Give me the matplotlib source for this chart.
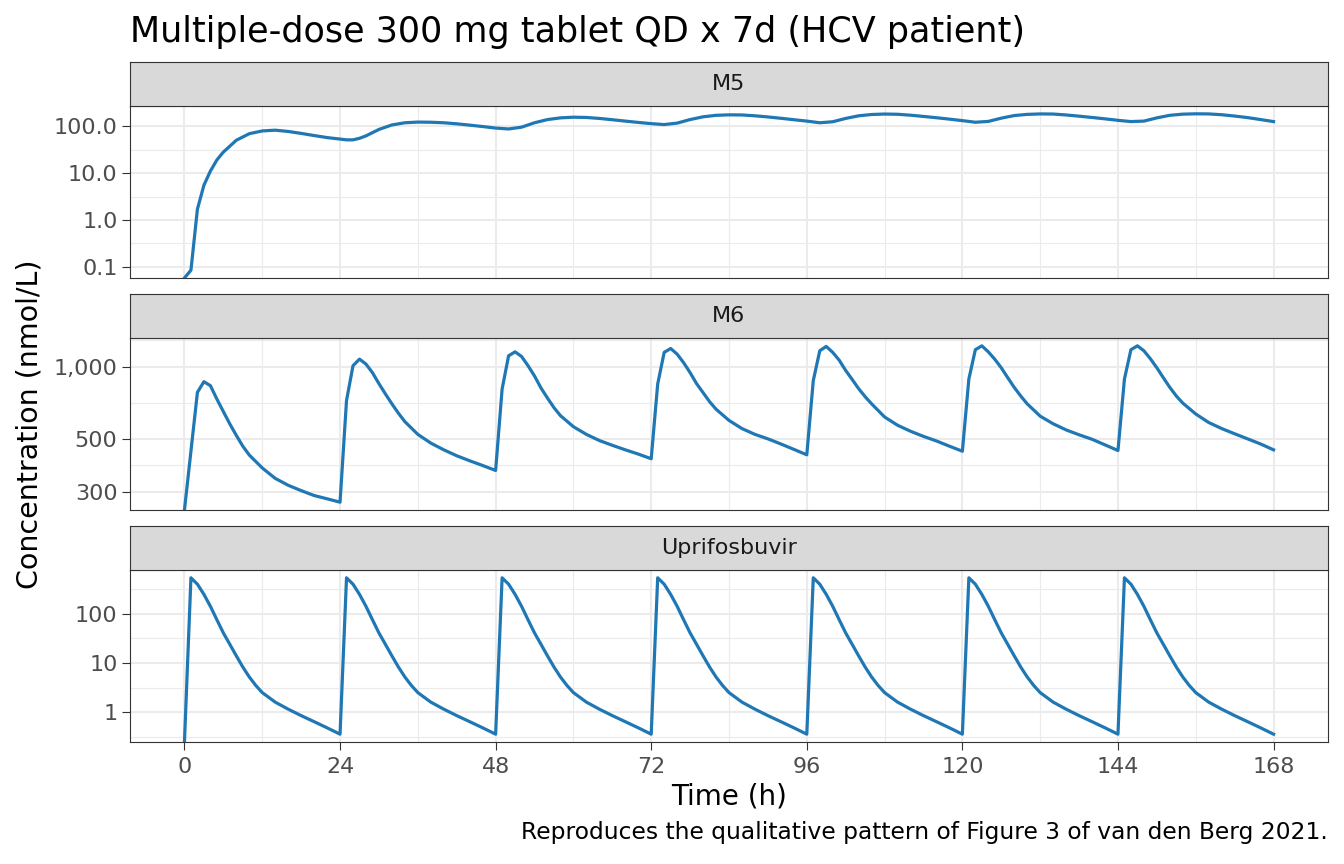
import numpy as np
import matplotlib
matplotlib.use("Agg")
import matplotlib.pyplot as plt
from matplotlib.ticker import FixedLocator, FixedFormatter, NullFormatter

plt.rcParams['font.family'] = ['DejaVu Sans']

title = "Multiple-dose 300 mg tablet QD x 7d (HCV patient)"
caption = "Reproduces the qualitative pattern of Figure 3 of van den Berg 2021."
x_label = "Time (h)"
y_label = "Concentration (nmol/L)"
panel_names = ["M5", "M6", "Uprifosbuvir"]

x_breaks = [0, 24, 48, 72, 96, 120, 144, 168]

# values (nmol/L); 0 at t=0 -> drawn at panel floor like ggplot's -Inf
m5_time = [0, 1, 2, 3, 4, 5, 6, 8, 10, 12, 14, 16, 18, 20, 22, 24,
           25, 26, 27, 28, 30, 32, 34, 36, 38, 40, 42, 44, 46, 48,
           50, 52, 54, 56, 58, 60, 62, 64, 66, 68, 70, 72,
           74, 76, 78, 80, 82, 84, 86, 88, 90, 92, 94, 96,
           98, 100, 102, 104, 106, 108, 110, 112, 114, 116, 118, 120,
           122, 124, 126, 128, 130, 132, 134, 136, 138, 140, 142, 144,
           146, 148, 150, 152, 154, 156, 158, 160, 162, 164, 166, 168]
m5_conc = [0, 0.085, 1.7, 5.5, 11, 19, 28, 50, 69, 79, 82, 77, 70, 63, 57, 53,
           51, 51, 55, 62, 85, 106, 118, 122, 121, 118, 112, 105, 98, 91,
           87, 95, 118, 138, 150, 155, 153, 146, 137, 128, 120, 113,
           108, 116, 138, 158, 170, 174, 173, 166, 157, 147, 137, 128,
           118, 124, 146, 166, 177, 181, 179, 171, 161, 151, 141, 131,
           121, 126, 148, 168, 178, 182, 181, 173, 163, 153, 143, 133,
           125, 128, 150, 170, 180, 183, 182, 175, 164, 152, 138, 125]

m6_time = [0, 2, 3, 4, 5, 6, 7, 8, 9, 10, 12, 14, 16, 18, 20, 22, 24,
           25, 26, 27, 28, 29, 30, 31, 32, 33, 34, 36, 38, 40, 42, 44, 46, 48,
           49, 50, 51, 52, 53, 54, 55, 56, 57, 58, 60, 62, 64, 66, 68, 70, 72,
           73, 74, 75, 76, 77, 78, 79, 80, 81, 82, 84, 86, 88, 90, 92, 94, 96,
           97, 98, 99, 100, 101, 102, 103, 104, 105, 106, 108, 110, 112, 114, 116, 118, 120,
           121, 122, 123, 124, 125, 126, 127, 128, 129, 130, 132, 134, 136, 138, 140, 142, 144,
           145, 146, 147, 148, 149, 150, 151, 152, 153, 154, 156, 158, 160, 162, 164, 166, 168]
m6_conc = [0, 782, 866, 834, 733, 650, 577, 517, 466, 428, 378, 342, 320, 304, 290, 281, 272,
           723, 1010, 1076, 1026, 945, 850, 770, 700, 640, 590, 522, 480, 450, 425, 405, 387, 369,
           807, 1111, 1154, 1104, 1010, 915, 815, 740, 675, 625, 562, 522, 492, 470, 450, 432, 413,
           847, 1148, 1192, 1129, 1040, 945, 850, 780, 715, 665, 597, 552, 522, 500, 476, 452, 429,
           875, 1166, 1216, 1148, 1065, 965, 885, 810, 750, 700, 617, 570, 538, 512, 490, 466, 444,
           889, 1178, 1223, 1154, 1075, 990, 900, 820, 755, 700, 622, 578, 545, 520, 498, 472, 447,
           889, 1178, 1223, 1166, 1080, 990, 900, 820, 755, 705, 635, 585, 552, 525, 500, 476, 450]

upri_time = [0, 1, 2, 3, 4, 5, 6, 7, 8, 9, 10, 11, 12, 14, 16, 18, 20, 22, 24,
             25, 26, 27, 28, 29, 30, 31, 32, 33, 34, 35, 36, 38, 40, 42, 44, 46, 48,
             49, 50, 51, 52, 53, 54, 55, 56, 57, 58, 59, 60, 62, 64, 66, 68, 70, 72,
             73, 74, 75, 76, 77, 78, 79, 80, 81, 82, 83, 84, 86, 88, 90, 92, 94, 96,
             97, 98, 99, 100, 101, 102, 103, 104, 105, 106, 107, 108, 110, 112, 114, 116, 118, 120,
             121, 122, 123, 124, 125, 126, 127, 128, 129, 130, 131, 132, 134, 136, 138, 140, 142, 144,
             145, 146, 147, 148, 149, 150, 151, 152, 153, 154, 155, 156, 158, 160, 162, 164, 166, 168]
upri_conc = [0, 543, 403, 250, 143, 76, 41, 24, 14, 8.3, 5.2, 3.5, 2.5, 1.6, 1.15, 0.85, 0.64, 0.48, 0.356,
             543, 403, 250, 143, 76, 41, 24, 14, 8.3, 5.2, 3.5, 2.5, 1.6, 1.15, 0.85, 0.64, 0.48, 0.356,
             543, 403, 250, 143, 76, 41, 24, 14, 8.3, 5.2, 3.5, 2.5, 1.6, 1.15, 0.85, 0.64, 0.48, 0.356,
             543, 403, 250, 143, 76, 41, 24, 14, 8.3, 5.2, 3.5, 2.5, 1.6, 1.15, 0.85, 0.64, 0.48, 0.356,
             543, 403, 250, 143, 76, 41, 24, 14, 8.3, 5.2, 3.5, 2.5, 1.6, 1.15, 0.85, 0.64, 0.48, 0.356,
             543, 403, 250, 143, 76, 41, 24, 14, 8.3, 5.2, 3.5, 2.5, 1.6, 1.15, 0.85, 0.64, 0.48, 0.356,
             543, 403, 250, 143, 76, 41, 24, 14, 8.3, 5.2, 3.5, 2.5, 1.6, 1.15, 0.85, 0.64, 0.48, 0.356]

y_breaks = [[0.1, 1, 10, 100], [300, 500, 1000], [1, 10, 100]]
y_labels = [["0.1", "1.0", "10.0", "100.0"], ["300", "500", "1,000"], ["1", "10", "100"]]

series = [(m5_time, m5_conc), (m6_time, m6_conc), (upri_time, upri_conc)]

W, H = 1344, 864
fig = plt.figure(figsize=(W / 100, H / 100), dpi=100)
left, right = 130, 1328
strip_h, panel_h, gap, top0 = 44, 172, 16, 62
line_col = "#1F77B4"
border = "#333333"
grid_col = "#EBEBEB"


def minor_between(b, lo, hi):
    # ggplot style minor breaks: midpoints (in transformed space) of extended breaks
    b = list(b)
    d = b[1] - b[0]
    b = [b[0] - d] + b + [b[-1] + d]
    m = [(b[k] + b[k + 1]) / 2 for k in range(len(b) - 1)]
    return [v for v in m if lo <= v <= hi]


xt = np.array(m5_time)
xpad = 0.05 * (xt.max() - xt.min())
xlo, xhi = xt.min() - xpad, xt.max() + xpad

for i, name in enumerate(panel_names):
    strip_top = top0 + i * (strip_h + panel_h + gap)
    panel_top = strip_top + strip_h
    ax = fig.add_axes([left / W, 1 - (panel_top + panel_h) / H, (right - left) / W, panel_h / H])
    sax = fig.add_axes([left / W, 1 - panel_top / H, (right - left) / W, strip_h / H])

    t = np.array(series[i][0], dtype=float)
    c = np.array(series[i][1], dtype=float)
    lc = np.log10(c[c > 0])
    pad = 0.05 * (lc.max() - lc.min())
    ylo, yhi = 10 ** (lc.min() - pad), 10 ** (lc.max() + pad)
    c_draw = np.where(c > 0, c, ylo)

    ax.set_yscale("log")
    ax.plot(t, c_draw, color=line_col, lw=2.3, solid_joinstyle="round", zorder=3)
    ax.set_xlim(xlo, xhi)
    ax.set_ylim(ylo, yhi)

    ax.yaxis.set_major_locator(FixedLocator(y_breaks[i]))
    ax.yaxis.set_major_formatter(FixedFormatter(y_labels[i]))
    lb = np.log10(y_breaks[i])
    ymin_list = [10 ** v for v in minor_between(lb, np.log10(ylo), np.log10(yhi))]
    ax.yaxis.set_minor_locator(FixedLocator(ymin_list))
    ax.yaxis.set_minor_formatter(NullFormatter())

    ax.xaxis.set_major_locator(FixedLocator(x_breaks))
    ax.xaxis.set_minor_locator(FixedLocator(minor_between(x_breaks, xlo, xhi)))

    ax.set_axisbelow(True)
    ax.grid(which="major", color=grid_col, lw=1.5)
    ax.grid(which="minor", color=grid_col, lw=0.8)
    ax.tick_params(which="minor", length=0)
    ax.tick_params(which="major", length=5.5, width=0.8, color=border,
                   labelsize=16, labelcolor="#4D4D4D")
    ax.tick_params(axis="y", pad=3.5)
    ax.tick_params(axis="x", pad=5)
    if i < 2:
        ax.tick_params(axis="x", which="major", length=0, labelbottom=False)
    for s in ax.spines.values():
        s.set_color(border)
        s.set_linewidth(0.8)

    sax.set_facecolor("#D9D9D9")
    sax.set_xticks([])
    sax.set_yticks([])
    for s in sax.spines.values():
        s.set_color(border)
        s.set_linewidth(0.8)
    sax.text(0.5, 0.5, name, transform=sax.transAxes, ha="center", va="center",
             fontsize=16, color="#1A1A1A")

fig.text(left / W, 1 - 42 / H, title, ha="left", va="baseline", fontsize=25.2, color="black")
fig.text(30 / W, 1 - 424 / H, y_label, ha="center", va="center", rotation=90, fontsize=20.5)
fig.text((left + right) / 2 / W, 1 - 797 / H, x_label, ha="center", va="center", fontsize=20)
fig.text(right / W, 1 - 833 / H, caption, ha="right", va="center", fontsize=16.8)

fig.savefig("out.png", dpi=100, facecolor="white")
